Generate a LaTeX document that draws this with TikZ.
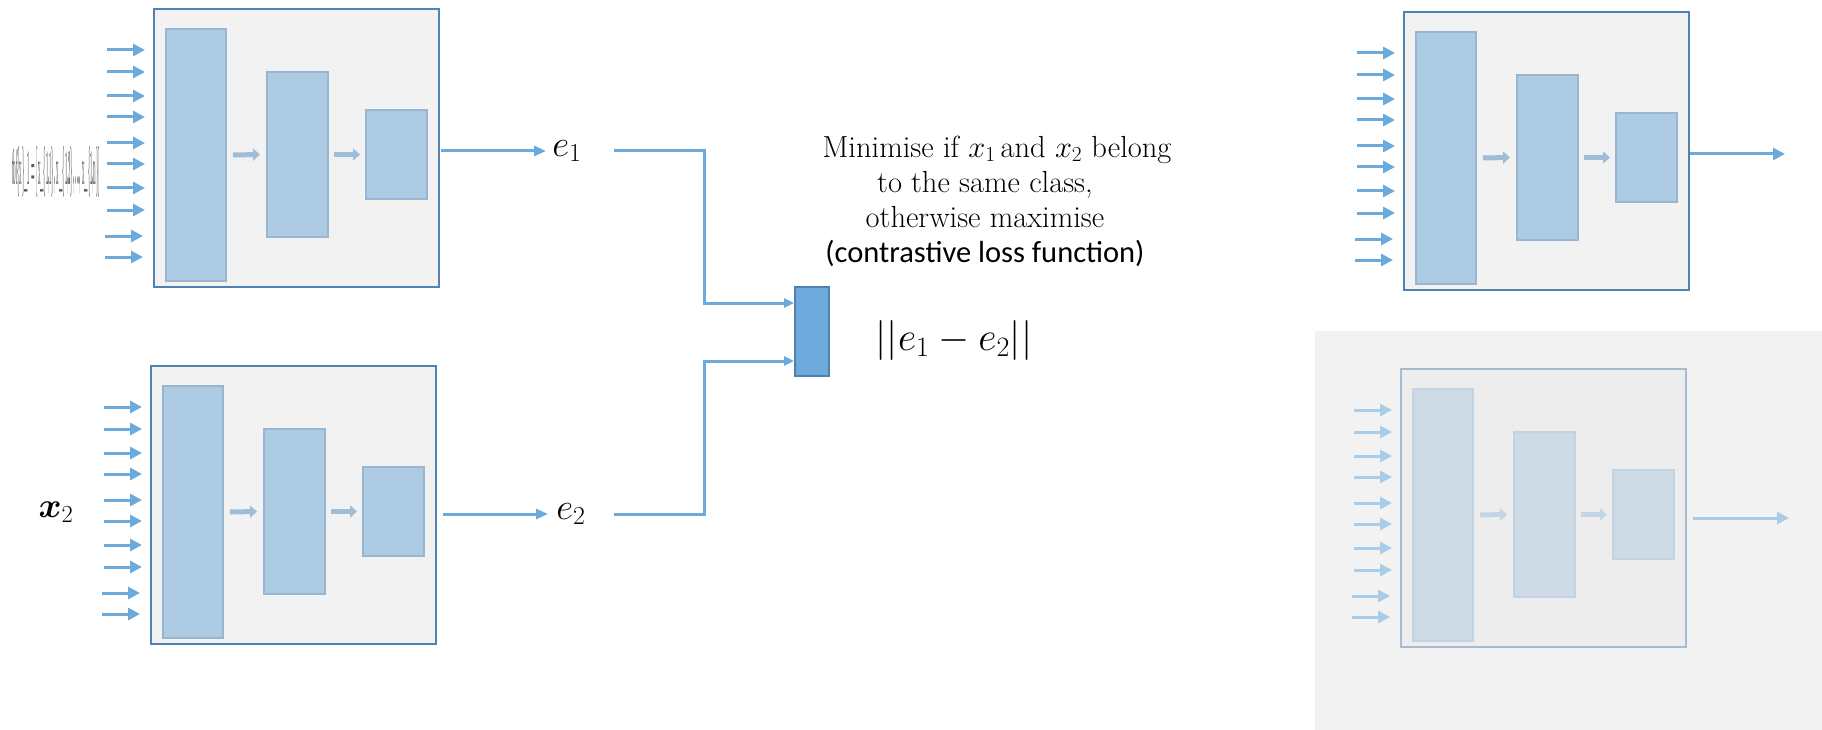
\documentclass[tikz,border=0pt]{standalone}
\usepackage{fix-cm}
\usepackage{amsmath}
\usepackage{fontspec}
\newfontfamily\calib{Carlito}
\usetikzlibrary{arrows.meta,calc}
\definecolor{arrblue}{HTML}{6AAADC}
\definecolor{boxfill}{HTML}{F2F2F2}
\definecolor{boxdraw}{HTML}{5183B2}
\definecolor{layfill}{HTML}{ADCBE3}
\definecolor{laydraw}{HTML}{98B6D2}
\definecolor{smallarr}{HTML}{9FBDD8}
\definecolor{mergefill}{HTML}{6EABDC}
\definecolor{mergedraw}{HTML}{4F80AE}
\definecolor{fbg}{HTML}{F2F2F2}

\newcommand\encoder[3]{%
\begin{scope}[shift={(#2,#3)}]
 \node[encbox] (#1) at (0,0) {};
 \node[layer, minimum width=60pt, minimum height=252pt] (#1la) at (42,146) {};
 \node[layer, minimum width=61pt, minimum height=165pt] (#1lb) at (143.5,145.5) {};
 \node[layer, minimum width=61pt, minimum height=89pt] (#1lc) at (242.5,145.5) {};
 \draw[smallarrow] ([xshift=7pt]#1la.east) -- ([xshift=-7pt]#1lb.west);
 \draw[smallarrow] ([xshift=6pt]#1lb.east) -- ([xshift=-6pt]#1lc.west);
 \foreach \yy in {41,63,87,108,134,155,179,201} {
   \coordinate (#1s\yy) at (-47,\yy);
   \coordinate (#1t\yy) at (-9,\yy);
   \draw[inarrow] (#1s\yy) -- (#1t\yy);
 }
 \foreach \yy in {227,248} {
   \coordinate (#1s\yy) at (-49,\yy);
   \coordinate (#1t\yy) at (-11,\yy);
   \draw[inarrow] (#1s\yy) -- (#1t\yy);
 }
\end{scope}}

\begin{document}
\begin{tikzpicture}[x=1pt,y=-1pt,
  encbox/.style={draw=boxdraw, fill=boxfill, line width=2.5pt, anchor=north west,
     minimum width=285pt, minimum height=278pt, inner sep=0pt, outer sep=0pt},
  layer/.style={draw=laydraw, fill=layfill, line width=2pt, inner sep=0pt, outer sep=0pt},
  smallarrow/.style={draw=smallarr, line width=5pt, -{Triangle[length=7pt,width=12pt]}},
  inarrow/.style={draw=arrblue, line width=3pt, -{Triangle[length=12pt,width=12pt]}},
  outarrow/.style={draw=arrblue, line width=3pt, -{Triangle[length=12pt,width=12pt]}},
  conn/.style={draw=arrblue, line width=3pt, -{Triangle[length=10pt,width=9pt]}},
  mathlbl/.style={inner sep=0pt, font=\fontsize{37}{40}\selectfont},
]
\useasboundingbox (0,0) rectangle (1822,730);

% faded background region
\fill[fbg] (1315,331) rectangle (1822,730);

\encoder{tl}{154}{9}
\encoder{bl}{151}{366}
\encoder{tr}{1404}{12}

\begin{scope}
\definecolor{boxfill}{HTML}{EDEDED}
\definecolor{boxdraw}{HTML}{A3BCD3}
\definecolor{layfill}{HTML}{CEDBE7}
\definecolor{laydraw}{HTML}{C3D3E2}
\definecolor{smallarr}{HTML}{C4D4E2}
\definecolor{arrblue}{HTML}{A9CCE8}
\encoder{br}{1401}{369}
\coordinate (bro) at (1789,518);
\coordinate (brs) at (1693,518);
\draw[outarrow] (brs) -- (bro);
\end{scope}

% labels
\node[inner sep=0pt, text=black!65] (x1) at (56,172)
  {\resizebox{88pt}{38pt}{\bfseries tbf\{x\}\_1 = [x\_\{1,1\}, x\_\{1,2\}, ..., x\_\{1,n\}]}};
\node[inner sep=0pt, font=\fontsize{35}{38}\selectfont] (x2) at (56,512) {$\boldsymbol{x}_2$};

\node[mathlbl] (e1) at (567,151) {$e_1$};
\node[mathlbl] (e2) at (571,514) {$e_2$};

\node[draw=mergedraw, fill=mergefill, line width=2pt, minimum width=34pt,
      minimum height=89pt, inner sep=0pt] (merge) at (812,331.5) {};

\coordinate (a1s) at (441,151);
\coordinate (a1e) at (546,151);
\coordinate (a2s) at (443,514);
\coordinate (a2e) at (548,514);
\draw[outarrow, -{Triangle[length=12pt,width=10pt]}] (a1s) -- (a1e);
\draw[outarrow, -{Triangle[length=12pt,width=10pt]}] (a2s) -- (a2e);

\coordinate (c1) at (614,151);
\coordinate (c2) at (614,514);
\coordinate (j1) at (704,303);
\coordinate (j2) at (704,361);
\draw[conn] (c1) -| (j1) -- (j1 -| merge.west);
\draw[conn] (c2) -| (j2) -- (j2 -| merge.west);

\coordinate (trs) at (1690,154);
\coordinate (tro) at (1785,154);
\draw[outarrow] (trs) -- (tro);

\node[inner sep=0pt, align=center, font=\fontsize{30.5}{35}\selectfont] (txt) at (985,201)
  {\hspace*{24pt}Minimise if $x_1$\,and $x_2$ belong\\ to the same class,\\ otherwise maximise\\
   {\calib\fontsize{30.5}{35}\selectfont (contrastive loss function)}};

\node[inner sep=0pt, font=\fontsize{40}{42}\selectfont] (norm) at (954,340) {$||e_1 - e_2||$};
\end{tikzpicture}
\end{document}
